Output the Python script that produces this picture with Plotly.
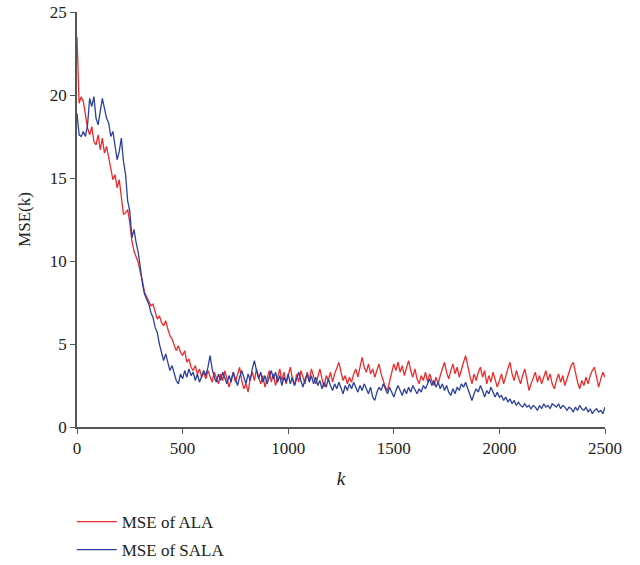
import plotly.graph_objects as go

# iteration index k (every 10 samples)
k_values = list(range(0, 2501, 10))

mse_ala = [
    23.5, 19.5, 19.9, 19.6, 18.8, 18.0, 17.6, 18.1, 17.2, 17.0,
    17.6, 16.7, 17.4, 16.5, 16.9, 16.2, 15.4, 14.9, 15.2, 14.4,
    14.9, 13.8, 12.8, 12.9, 13.1, 12.3, 11.2, 10.6, 10.3, 9.9,
    9.3, 8.8, 8.1, 7.8, 7.6, 7.3, 7.4, 6.9, 6.5, 6.7,
    6.3, 6.1, 6.4, 5.9, 5.5, 5.3, 5.0, 4.6, 4.9, 4.5,
    4.3, 4.6, 3.9, 4.1, 3.6, 3.4, 3.7, 3.2, 3.5, 3.0,
    3.3, 2.9, 3.4, 3.1, 2.7, 3.3, 3.0, 2.6, 3.2, 2.8,
    3.4, 2.9, 2.4, 2.9, 3.3, 2.7, 3.1, 3.6, 2.8, 2.3,
    2.6, 2.1, 2.9, 3.3, 2.8, 3.5, 3.0, 2.6, 3.1, 2.4,
    2.9, 3.4, 2.7, 3.2, 2.5, 3.0, 3.5, 2.8, 3.3, 2.6,
    3.1, 3.6, 2.9, 2.5, 3.2, 2.7, 3.4, 3.0, 2.6, 3.3,
    2.8, 3.5, 3.1, 2.6, 3.0, 3.5, 2.9, 2.4, 3.1, 2.8,
    3.3, 2.7, 3.2, 3.6, 3.9, 3.3, 2.8, 3.1, 2.6, 3.0,
    2.7, 3.2, 3.5, 3.0, 3.7, 4.2, 3.6, 3.3, 3.8, 3.2,
    3.5, 3.0, 3.4, 3.8, 3.2, 2.8, 2.4, 2.2, 2.7, 3.3,
    3.8, 3.4, 3.9, 3.3, 3.7, 3.1, 3.6, 4.0, 3.4, 3.0,
    3.5, 2.9, 2.6, 3.1, 2.8, 3.3, 2.7, 3.2, 2.8, 2.5,
    3.0, 2.6, 3.1, 3.5, 3.9, 3.3, 2.9, 3.4, 3.8, 3.2,
    3.6, 3.0, 3.5, 3.9, 4.3, 3.6, 3.1, 2.6, 3.2, 2.8,
    3.3, 3.6, 3.0, 3.4, 2.6, 3.1, 2.7, 3.3, 2.9, 2.4,
    2.8, 3.2, 2.6, 3.1, 3.5, 3.9, 3.2, 2.8, 3.4, 3.0,
    2.6, 3.1, 3.5, 2.9, 2.2, 2.6, 2.9, 3.3, 2.7, 3.1,
    2.6, 3.0, 3.4, 2.8, 3.2, 2.6, 2.3, 2.8, 3.2, 2.7,
    3.1, 2.5, 2.9, 3.3, 3.7, 3.9, 3.2, 2.7, 2.3, 2.8,
    2.5, 3.0, 2.6, 3.1, 3.4, 3.6, 3.0, 2.4, 2.9, 3.3,
    3.0,
]

mse_sala = [
    18.9, 17.6, 17.5, 17.8, 17.5, 18.2, 19.8, 19.3, 19.9, 18.6,
    18.2, 19.0, 19.8, 19.2, 18.6, 18.3, 17.5, 17.8, 16.9, 16.1,
    16.6, 17.4, 16.0, 15.2, 13.6, 13.0, 11.4, 11.9, 11.1, 10.5,
    9.6, 8.6, 8.0, 7.7, 7.4, 6.9, 6.6, 6.0, 5.7, 5.0,
    4.5, 4.0, 4.4, 3.8, 3.4, 3.7, 3.2, 2.8, 2.6, 3.2,
    2.9, 3.4, 3.0, 3.5, 3.1, 3.3, 2.8, 3.2, 2.7, 3.0,
    3.4, 3.1, 3.6, 4.3, 3.5, 3.0, 2.7, 3.2, 2.8, 3.3,
    3.0, 2.6, 3.1, 2.7, 3.3, 2.9, 2.5, 3.0, 3.4, 3.0,
    2.6, 3.2, 2.8, 3.5, 4.0, 3.4, 2.9, 3.3, 2.7, 3.1,
    2.6, 3.0, 3.4, 2.9, 3.3, 2.7, 3.1, 2.5, 3.0, 2.7,
    3.2, 2.6, 3.0, 2.5, 2.9, 3.3, 2.8, 2.4, 2.9, 3.2,
    2.7, 3.1, 2.6, 3.0, 2.5, 2.8, 2.3, 2.7, 2.4, 2.9,
    2.5, 2.2, 2.6, 2.3, 2.7, 2.4, 2.0, 2.5, 2.2, 2.6,
    2.3, 2.7, 2.4, 2.1, 2.5, 2.2, 2.6, 2.3, 2.0, 2.4,
    1.8, 1.6, 2.1, 2.4, 2.2, 2.6, 2.3, 2.0, 2.4, 2.1,
    1.8, 2.2, 2.5, 2.2, 1.9, 2.3, 2.0, 2.4, 2.1, 2.5,
    2.2, 2.0, 2.3, 2.1, 2.5, 2.3, 2.6, 2.9, 2.5, 2.8,
    2.4, 2.7, 2.3, 2.6, 2.2, 2.5, 2.1, 1.9, 2.3, 2.0,
    2.4, 2.2, 2.6, 2.4, 2.7, 2.3, 1.9, 1.6, 2.0, 2.3,
    2.1, 2.5, 2.2, 1.8, 2.2, 2.0, 2.4, 2.1, 1.8, 2.1,
    1.8, 1.9, 1.6, 1.8, 1.5, 1.7, 1.4, 1.6, 1.3, 1.5,
    1.3, 1.2, 1.4, 1.2, 1.3, 1.1, 1.3, 1.2, 1.0, 1.3,
    1.1, 1.4, 1.2, 1.3, 1.1, 1.4, 1.3, 1.2, 1.4, 1.1,
    1.3, 1.2, 1.0, 1.2, 1.1, 0.9, 1.2, 1.0, 1.3, 1.1,
    1.0, 1.2, 0.9, 1.1, 0.8, 1.0, 1.1, 0.9, 1.0, 0.8,
    1.2,
]

x_ticks = [0, 500, 1000, 1500, 2000, 2500]
y_ticks = [0, 5, 10, 15, 20, 25]

FONT = "Liberation Serif"

fig = go.Figure()
fig.add_trace(go.Scatter(x=k_values, y=mse_ala, mode="lines", name="MSE of ALA",
                         legendgroup="a",
                         line=dict(color="#ee2a2a", width=1.3)))
fig.add_trace(go.Scatter(x=k_values, y=mse_sala, mode="lines", name="MSE of SALA",
                         legendgroup="b",
                         line=dict(color="#2b3f9e", width=1.3)))

fig.update_layout(
    width=640, height=565,
    margin=dict(l=77, r=35, t=12, b=138, autoexpand=False),
    paper_bgcolor="white", plot_bgcolor="white",
    font=dict(family=FONT, size=17, color="#222222"),
    showlegend=True,
    legend=dict(x=-0.01, y=-(504 - 427) / 415, xanchor="left", yanchor="top",
                font=dict(family=FONT, size=17, color="#222222"),
                bgcolor="rgba(0,0,0,0)", tracegroupgap=3, itemwidth=40),
    xaxis=dict(range=[0, 2500], tickvals=x_ticks, ticktext=[str(v) for v in x_ticks],
               showgrid=False, zeroline=False, showline=True, linecolor="#555555",
               linewidth=1.5, ticks="outside", tickcolor="#555555", ticklen=5,
               tickfont=dict(family=FONT, size=17),
               title=dict(text="<i>k</i>", font=dict(family=FONT, size=19))),
    yaxis=dict(range=[0, 25], tickvals=y_ticks, ticktext=[str(v) for v in y_ticks],
               showgrid=False, zeroline=False, showline=True, linecolor="#555555",
               linewidth=1.5, ticks="outside", tickcolor="#555555", ticklen=5,
               tickfont=dict(family=FONT, size=17),
               title=dict(text="MSE(k)", font=dict(family=FONT, size=17))),
)

fig.write_html("out.html")
